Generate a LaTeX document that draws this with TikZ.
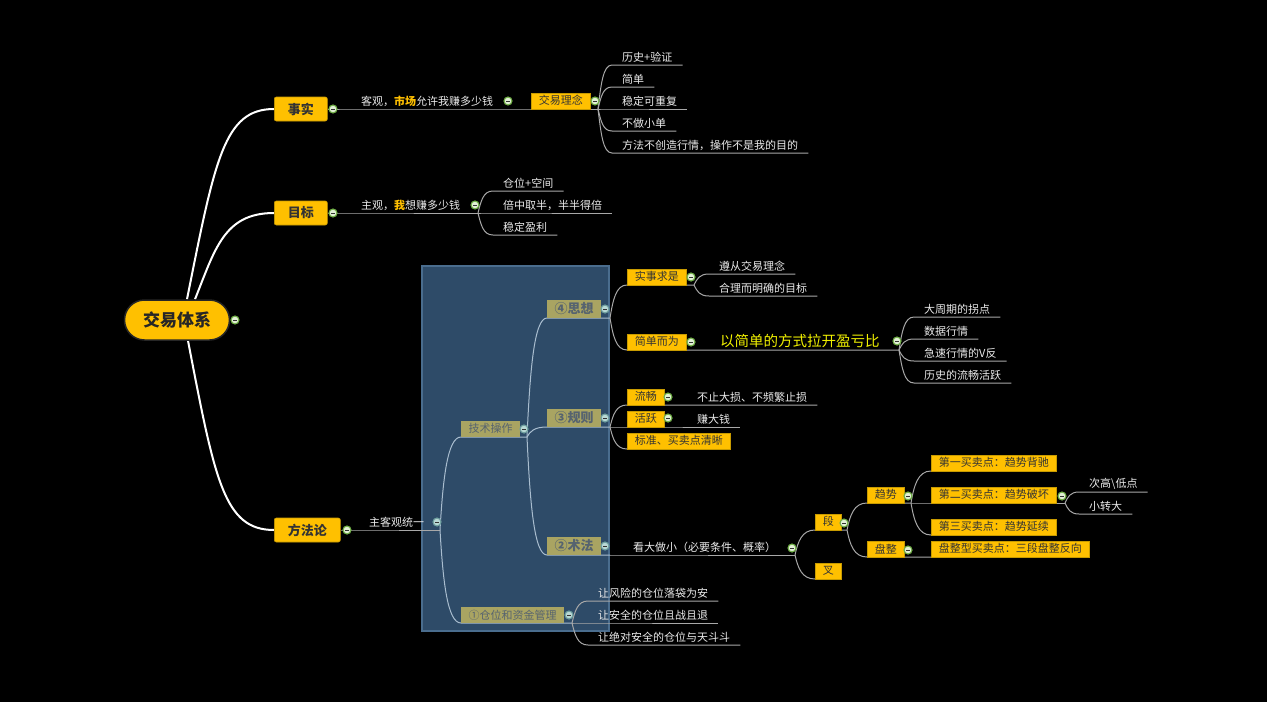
\documentclass[tikz,border=0pt]{standalone}
\usepackage{fontspec}
\setmainfont{Noto Sans CJK SC}
\usepackage{xcolor}
\usepackage{tikz}
\usetikzlibrary{calc}
\definecolor{yel}{HTML}{FFC000}
\definecolor{ybord}{HTML}{C89B00}
\definecolor{slate}{HTML}{2E4B68}
\definecolor{slateb}{HTML}{4A6D8E}
\definecolor{khaki}{HTML}{A9A462}
\definecolor{khtext}{HTML}{56636F}
\definecolor{lk}{HTML}{A8A8A8}
\definecolor{lkb}{HTML}{A9BDCF}
\definecolor{kgreen}{HTML}{6FAE45}
\definecolor{kfill}{HTML}{E2F0D6}
\definecolor{kblue}{HTML}{6E9E9E}
\definecolor{kbfill}{HTML}{B9D8D5}
\definecolor{bigy}{HTML}{F2F200}
\definecolor{dk}{HTML}{333333}
\pgfdeclarelayer{bg}
\pgfdeclarelayer{lines}
\pgfsetlayers{bg,lines,main}
\tikzstyle{root}=[draw=black!85,line width=1.5pt,fill=yel,rounded corners=20pt,
minimum width=105pt,minimum height=40pt,text=black!85,font=\fontsize{17}{20}\selectfont\bfseries]
\tikzstyle{mainbox}=[anchor=west,fill=yel,draw=ybord,line width=0.6pt,rounded corners=2pt,
inner xsep=13.5pt,minimum height=24pt,text=dk,font=\fontsize{13}{15}\selectfont\bfseries]
\tikzstyle{ybox}=[anchor=south west,fill=yel,draw=ybord,line width=0.5pt,inner xsep=7.5pt,
inner ysep=0pt,minimum height=16pt,text=dk,font=\fontsize{11}{13}\selectfont]
\tikzstyle{kbox}=[anchor=south west,fill=khaki,inner xsep=7.5pt,inner ysep=0pt,
minimum height=16pt,text=khtext,font=\fontsize{11}{13}\selectfont]
\tikzstyle{kbig}=[minimum height=18pt,font=\fontsize{13}{15}\selectfont\bfseries]
\tikzstyle{leaf}=[anchor=south west,inner xsep=10pt,inner ysep=2pt,text=white!92!black,
font=\fontsize{11}{13}\selectfont]
\tikzstyle{bigtxt}=[anchor=south west,inner xsep=10pt,inner ysep=2pt,text=bigy,
font=\fontsize{14.5}{17}\selectfont]
\tikzstyle{knob}=[circle,minimum size=8pt,inner sep=0pt,fill=kfill,draw=kgreen,line width=1.1pt,
path picture={\draw[dk,line width=0.9pt] ([xshift=-2pt]path picture bounding box.center) -- ([xshift=2pt]path picture bounding box.center);}]
\tikzstyle{knobb}=[knob,fill=kbfill,draw=kblue]
\tikzstyle{trunk}=[draw=white,line width=2pt]
\tikzstyle{lnk}=[draw=lk,line width=1pt]
\tikzstyle{lnkb}=[draw=lkb,line width=1pt]
\tikzstyle{twig}=[to path={.. controls ($(\tikztostart)!0.55!(\tikztostart|-\tikztotarget)+(3,0)$) and ($(\tikztostart|-\tikztotarget)!0.35!(\tikztotarget)$) .. (\tikztotarget)}]
\begin{document}
\begin{tikzpicture}[x=1pt,y=-1pt]
\useasboundingbox (0,0) rectangle (1267,702);
\begin{pgfonlayer}{bg}
\fill[black] (0,0) rectangle (1267,702);
\filldraw[fill=slate,draw=slateb,line width=1.5pt] (422,266) rectangle (609,631);
\end{pgfonlayer}

% centre and main topics
\node[root] (sys) at (177,320) {交易体系};
\node[knob] (k0) at (235,320) {};
\node[mainbox] (shishi) at (274,109) {事实};
\node[knob] (k1) at (333,109) {};
\node[mainbox] (mubiao) at (274,213) {目标};
\node[knob] (k2) at (333,213) {};
\node[mainbox] (fangfa) at (274,530) {方法论};
\node[knob] (k3) at (347,530) {};

% shishi
\node[leaf] (keguan) at (351,109) {客观，\textcolor{yel}{\bfseries 市场}允许我赚多少钱};
\node[knob] (k4) at (508,101) {};
\node[ybox] (linian) at (531,109) {交易理念};
\node[knob] (k5) at (595,101) {};
\coordinate (f1) at (598,109);
\node[leaf] (lishi) at (612,65) {历史+验证};
\node[leaf] (jiandan) at (612,87) {简单};
\node[leaf] (wending) at (612,109) {稳定可重复};
\node[leaf] (buzuo) at (612,131) {不做小单};
\node[leaf] (mudi) at (612,153) {方法不创造行情，操作不是我的目的};

% mubiao
\node[leaf] (zhuguan) at (351,213) {主观，\textcolor{yel}{\bfseries 我}想赚多少钱};
\node[knob] (k6) at (475,205) {};
\coordinate (f2) at (478,213);
\node[leaf] (kongjian) at (493,191) {仓位+空间};
\node[leaf] (beizhong) at (493,213) {倍中取半，半半得倍};
\node[leaf] (yingli) at (493,235) {稳定盈利};

% fangfa
\node[leaf] (tongyi) at (359,530) {主客观统一};
\node[knobb] (k7) at (437,522) {};
\coordinate (f3) at (440,530);
\node[kbox] (jishu) at (461,437) {技术操作};
\node[knobb] (k8) at (524,429) {};
\coordinate (f4) at (527,437);
\node[kbox,kbig] (sixiang) at (547,318) {④思想};
\node[knobb] (k9) at (605,309) {};
\coordinate (f5) at (610,318);
\node[kbox,kbig] (guize) at (547,427) {③规则};
\node[knobb] (k10) at (605,418) {};
\coordinate (f6) at (610,427);
\node[kbox,kbig] (shufa) at (547,555) {②术法};
\node[knobb] (k11) at (605,546) {};
\coordinate (f7) at (610,555);
\node[kbox] (cangwei) at (461,623) {①仓位和资金管理};
\node[knobb] (k12) at (569,615) {};
\coordinate (f8) at (572,623);

% sixiang
\node[ybox] (qiushi) at (627,285) {实事求是};
\node[knob] (k13) at (691,277) {};
\coordinate (f9) at (694,285);
\node[leaf] (zunxun) at (709,274) {遵从交易理念};
\node[leaf] (heli) at (709,296) {合理而明确的目标};
\node[ybox] (jianer) at (627,350) {简单而为};
\node[knob] (k14) at (691,342) {};
\node[bigtxt] (yijian) at (710,350) {以简单的方式拉开盈亏比};
\node[knob] (k15) at (897,341) {};
\coordinate (f10) at (899,350);
\node[leaf] (dazhou) at (914,317) {大周期的拐点};
\node[leaf] (shuju) at (914,339) {数据行情};
\node[leaf] (jisu) at (914,361) {急速行情的V反};
\node[leaf] (liuhuo) at (914,383) {历史的流畅活跃};

% guize
\node[ybox] (liuchang) at (627,405) {流畅};
\node[knob] (k16) at (668,397) {};
\node[leaf] (buzhi) at (687,405) {不止大损、不频繁止损};
\node[ybox] (huoyue) at (627,427) {活跃};
\node[knob] (k17) at (668,418) {};
\node[leaf] (zhuan) at (687,427) {赚大钱};
\node[ybox] (biaozhun) at (627,449) {标准、买卖点清晰};

% shufa
\node[leaf] (kanda) at (623,555) {看大做小（必要条件、概率）};
\node[knob] (k18) at (792,548) {};
\coordinate (f11) at (795,555);
\node[ybox] (duan) at (815,530) {段};
\node[knob] (k19) at (844,523) {};
\coordinate (f12) at (847,530);
\node[ybox] (cha) at (815,579) {叉};
\node[ybox] (qushi) at (867,503) {趋势};
\node[knob] (k20) at (908,496) {};
\coordinate (f13) at (911,503);
\node[ybox] (panzheng) at (867,557) {盘整};
\node[knob] (k21) at (908,550) {};
\node[ybox] (mai1) at (931,471) {第一买卖点：趋势背驰};
\node[ybox] (mai2) at (931,503) {第二买卖点：趋势破坏};
\node[knob] (k22) at (1062,496) {};
\coordinate (f14) at (1065,503);
\node[ybox] (mai3) at (931,535) {第三买卖点：趋势延续};
\node[ybox] (mai4) at (931,557) {盘整型买卖点：三段盘整反向};
\node[leaf] (cigao) at (1079,492) {次高\textbackslash 低点};
\node[leaf] (xiaozhuan) at (1079,514) {小转大};

% cangwei
\node[leaf] (rang1) at (588,601) {让风险的仓位落袋为安};
\node[leaf] (rang2) at (588,623) {让安全的仓位且战且退};
\node[leaf] (rang3) at (588,645) {让绝对安全的仓位与天斗斗};

\begin{pgfonlayer}{lines}
\draw[trunk] ([xshift=10pt]sys.north) .. controls +(28,-140) and +(-50,0) .. (shishi.west);
\draw[trunk] ([xshift=18pt]sys.north) .. controls +(20,-50) and +(-50,0) .. (mubiao.west);
\draw[trunk] ([xshift=11pt]sys.south) .. controls +(27,140) and +(-50,0) .. (fangfa.west);

\draw[lnk] (shishi.east) -- (keguan.south west) -- (linian.south west) -- (f1);
\foreach \n in {lishi,jiandan,wending,buzuo,mudi}
  \draw[lnk] (f1) to[twig] (\n.south west) -- (\n.south east);
\draw[lnk] (mubiao.east) -- (zhuguan.south west) -- (f2);
\foreach \n in {kongjian,beizhong,yingli}
  \draw[lnk] (f2) to[twig] (\n.south west) -- (\n.south east);

\draw[lnk] (fangfa.east) -- (tongyi.south west) -- (f3);
\draw[lnkb] (f3) to[twig] (jishu.south west) -- (f4);
\draw[lnkb] (f3) to[twig] (cangwei.south west) -- (f8);
\foreach \n/\f in {sixiang/f5,guize/f6,shufa/f7}
  \draw[lnkb] (f4) to[twig] (\n.south west) -- (\f);

\draw[lnk] (f5) to[twig] (qiushi.south west) -- (f9);
\foreach \n in {zunxun,heli}
  \draw[lnk] (f9) to[twig] (\n.south west) -- (\n.south east);
\draw[lnk] (f5) to[twig] (jianer.south west) -- (yijian.south west) -- (f10);
\foreach \n in {dazhou,shuju,jisu,liuhuo}
  \draw[lnk] (f10) to[twig] (\n.south west) -- (\n.south east);

\draw[lnk] (f6) to[twig] (liuchang.south west) -- (buzhi.south east);
\draw[lnk] (f6) -- (huoyue.south west) -- (zhuan.south east);
\draw[lnk] (f6) to[twig] (biaozhun.south west) -- (biaozhun.south east);

\draw[lnk] (f7) -- (kanda.south west) -- (f11);
\draw[lnk] (f11) to[twig] (duan.south west) -- (f12);
\draw[lnk] (f11) to[twig] (cha.south west) -- (cha.south east);
\draw[lnk] (f12) to[twig] (qushi.south west) -- (f13);
\draw[lnk] (f12) to[twig] (panzheng.south west) -- (mai4.south east);
\draw[lnk] (f13) to[twig] (mai1.south west) -- (mai1.south east);
\draw[lnk] (f13) -- (mai2.south west) -- (f14);
\draw[lnk] (f13) to[twig] (mai3.south west) -- (mai3.south east);
\foreach \n in {cigao,xiaozhuan}
  \draw[lnk] (f14) to[twig] (\n.south west) -- (\n.south east);

\foreach \n in {rang1,rang2,rang3}
  \draw[lnk] (f8) to[twig] (\n.south west) -- (\n.south east);
\end{pgfonlayer}
\end{tikzpicture}
\end{document}
